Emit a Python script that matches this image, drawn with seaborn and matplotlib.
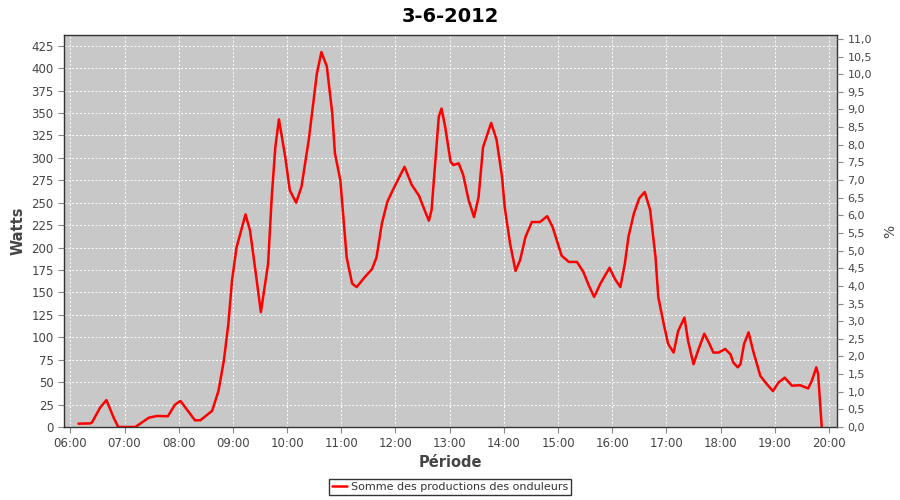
import matplotlib
matplotlib.use("Agg")
import matplotlib.pyplot as plt
import matplotlib.dates as mdates
import matplotlib.ticker as mticker
import seaborn as sns
import pandas as pd

title = "3-6-2012"
series_name = "Somme des productions des onduleurs"
times = ["06:09", "06:22", "06:24", "06:33", "06:40", "06:48", "06:53", "07:12", "07:27", "07:36",
         "07:48", "07:56", "08:02", "08:18", "08:24", "08:37", "08:44", "08:50", "08:55", "08:59",
         "09:04", "09:14", "09:19", "09:25", "09:31", "09:39", "09:43", "09:47", "09:51", "09:58",
         "10:03", "10:10", "10:16", "10:24", "10:33", "10:38", "10:44", "10:50", "10:53", "10:59",
         "11:02", "11:06", "11:12", "11:17", "11:26", "11:34", "11:39", "11:45", "11:51", "11:58",
         "12:10", "12:18", "12:26", "12:31", "12:37", "12:40", "12:44", "12:48", "12:51", "12:55",
         "13:01", "13:04", "13:10", "13:15", "13:21", "13:27", "13:32", "13:37", "13:46", "13:52",
         "13:58", "14:01", "14:07", "14:13", "14:18", "14:24", "14:31", "14:40", "14:48", "14:54",
         "15:04", "15:12", "15:21", "15:28", "15:34", "15:40", "15:47", "15:57", "16:03", "16:09",
         "16:14", "16:18", "16:24", "16:30", "16:36", "16:42", "16:48", "16:51", "16:57", "17:02",
         "17:08", "17:13", "17:20", "17:24", "17:30", "17:35", "17:42", "17:47", "17:52", "17:58",
         "18:05", "18:11", "18:14", "18:19", "18:22", "18:26", "18:31", "18:36", "18:44", "18:51",
         "18:58", "19:04", "19:11", "19:19", "19:28", "19:37", "19:41", "19:46", "19:48", "19:52"]
watts = [3.7, 4, 5, 21.6, 30, 10.4, 0, 0, 10.4, 12.3,
         12, 25, 29, 7.5, 7.5, 18, 40, 74, 115, 163,
         200, 237, 219, 174, 128, 182, 256, 312, 343, 301,
         264, 250, 268, 320, 394, 418, 402, 350, 305, 275,
         238, 189, 160, 156, 167, 176, 189, 227, 251, 266,
         290, 270, 258, 245, 230, 242, 294, 346, 355, 335,
         296, 292, 294, 281, 253, 234, 256, 312, 339, 320,
         279, 245, 204, 174, 186, 212, 228.5, 228.5, 235, 223,
         191, 184, 184, 173, 158, 145, 160, 177.5, 165, 156,
         182, 212, 238, 255, 262, 242, 189, 145, 115, 92.5,
         83, 107, 122, 96, 70, 85, 104, 94, 83, 83,
         87, 81, 72, 66.5, 70, 92.5, 105.5, 85, 57, 48,
         40, 49.5, 55, 46, 46.6, 43, 51.5, 66.5, 59, 0]
hour_ticks = list(range(6, 21))
watt_ticks = list(range(0, 426, 25))
pct_ticks = [i * 0.5 for i in range(0, 23)]

df = pd.DataFrame({"time": pd.to_datetime(["2012-06-03 " + t for t in times]), "watts": watts})

sns.set_theme(style="white")
plt.rcParams["font.family"] = ["DejaVu Sans"]

fig = plt.figure(figsize=(9, 5), dpi=100)
ax = fig.add_axes([0.0711, 0.146, 0.859, 0.784])
ax.set_facecolor("#c8c8c8")

sns.lineplot(data=df, x="time", y="watts", ax=ax, color="#ff0000", linewidth=1.8, label=series_name, legend=False)

day = pd.Timestamp("2012-06-03")
ax.set_xlim(day + pd.Timedelta(minutes=353), day + pd.Timedelta(minutes=1209))
ax.set_xticks([day + pd.Timedelta(hours=h) for h in hour_ticks])
ax.xaxis.set_major_formatter(mdates.DateFormatter("%H:%M"))
ax.set_ylim(0, 437)
ax.set_yticks(watt_ticks)

ax.grid(True, color="white", linestyle=(0, (2, 2)), linewidth=0.7)
for s in ax.spines.values():
    s.set_color("#333333")
    s.set_linewidth(1)

tick_col = "#444444"
ax.tick_params(axis="both", which="major", direction="out", length=4, width=0.8,
               color="#888888", labelcolor=tick_col, labelsize=8.5, bottom=True, left=True)
ax.set_xlabel("Période", fontsize=10.5, fontweight="bold", color="#444444", labelpad=3)
ax.set_ylabel("Watts", fontsize=10.5, fontweight="bold", color="#444444", labelpad=4)

ax2 = ax.twinx()
ax2.set_ylim(0, 11.11)
ax2.set_yticks(pct_ticks)
ax2.yaxis.set_major_formatter(mticker.FuncFormatter(lambda v, p: f"{v:.1f}".replace(".", ",")))
ax2.tick_params(axis="y", direction="out", length=4, width=0.8, color="#888888",
                labelcolor=tick_col, labelsize=8, right=True)
ax2.set_ylabel("%", fontsize=10, color="#444444", labelpad=8)
for s in ax2.spines.values():
    s.set_visible(False)

fig.suptitle(title, fontsize=14, fontweight="bold", y=0.985, color="#000000")

handles, labels = ax.get_legend_handles_labels()
leg = fig.legend(handles, labels, loc="center", bbox_to_anchor=(0.5, 0.026), frameon=True,
                 fancybox=False, edgecolor="black", fontsize=8, handlelength=1.4,
                 borderpad=0.3, handletextpad=0.3, borderaxespad=0)
leg.get_frame().set_linewidth(1)
for t in leg.get_texts():
    t.set_color("#333333")

fig.savefig("out.png", dpi=100, facecolor="white")
